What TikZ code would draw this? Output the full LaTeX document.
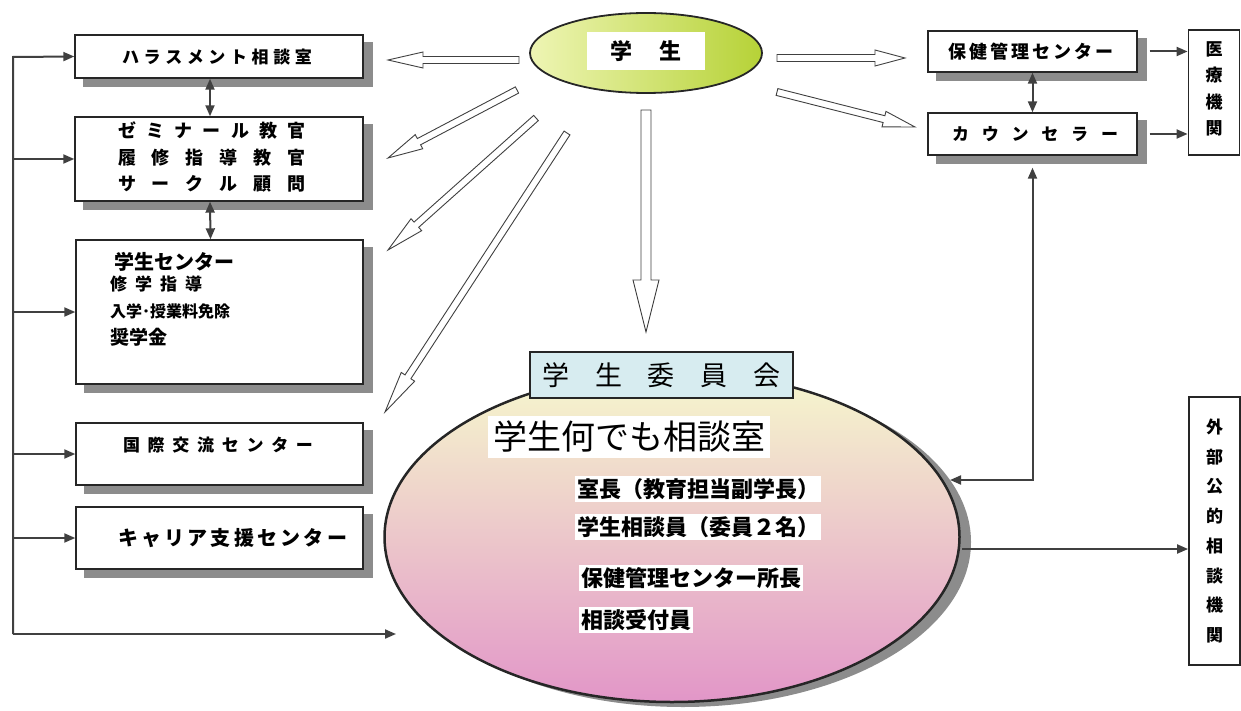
\documentclass[tikz,border=0pt]{standalone}
\usepackage{fontspec}
\setmainfont{Noto Sans CJK JP}
\usetikzlibrary{calc,shapes.geometric,arrows.meta}
\pgfdeclarelayer{bg}
\pgfsetlayers{bg,main}
\newcommand\harrow[5]{%
  \coordinate (ha) at (#1); \coordinate (hb) at (#2);
  \coordinate (hh) at ($(hb)!#5!(ha)$);
  \draw[hollow] ($(ha)!#3!90:(hb)$) -- ($(hh)!#3!90:(hb)$) -- ($(hh)!#4!90:(hb)$) -- (hb)
     -- ($(hh)!#4!-90:(hb)$) -- ($(hh)!#3!-90:(hb)$) -- ($(ha)!#3!-90:(hb)$) -- cycle;}
\newcommand\boxshadow[1]{\fill[shadowc] ($(#1.north west)+(9,8)$) rectangle ($(#1.south east)+(9,8)$);}
\begin{document}
\begin{tikzpicture}[x=1pt,y=-1pt,
  shadowc/.style={fill=black!45},
  box/.style={draw=black!85, line width=1.4pt, fill=white, rectangle, inner sep=0pt},
  plainbox/.style={draw=black!85, line width=1.8pt, fill=white, rectangle, inner sep=0pt},
  conn/.style={draw=black!75, line width=2pt, -{Triangle[length=11pt,width=9pt]}},
  conn2/.style={draw=black!75, line width=2pt, {Triangle[length=11pt,width=9pt]}-{Triangle[length=11pt,width=9pt]}},
  hollow/.style={draw=black!75, fill=white, line width=0.9pt, line join=miter},
  lbl/.style={inner sep=0pt, font=\bfseries\fontsize{17}{20}\selectfont},
  sub/.style={inner sep=2pt, fill=white, anchor=west, font=\bfseries\fontsize{22}{24}\selectfont},
]
\useasboundingbox (0,0) rectangle (1241,711);

% left boxes
\node[box, minimum width=288pt, minimum height=43pt] (harass) at (219,56.5) {};
\node[lbl] (tharass) at (217,57) {\hbox to 190pt{ハ\hfill ラ\hfill ス\hfill メ\hfill ン\hfill ト\hfill 相\hfill 談\hfill 室}};
\node[box, minimum width=288pt, minimum height=84pt] (semi) at (219,159) {};
\node[lbl, font=\bfseries\fontsize{18}{20}\selectfont] (ts1) at (212,131) {\hbox to 188pt{ゼ\hfill ミ\hfill ナ\hfill ー\hfill ル\hfill 教\hfill 官}};
\node[lbl, font=\bfseries\fontsize{18}{20}\selectfont] (ts2) at (212,158) {\hbox to 188pt{履\hfill 修\hfill 指\hfill 導\hfill 教\hfill 官}};
\node[lbl, font=\bfseries\fontsize{18}{20}\selectfont] (ts3) at (212,184) {\hbox to 188pt{サ\hfill ー\hfill ク\hfill ル\hfill 顧\hfill 問}};
\node[box, minimum width=287pt, minimum height=144pt] (gcenter) at (219.5,312) {};
\node[lbl, anchor=west, font=\bfseries\fontsize{20}{22}\selectfont] (tg1) at (114,262) {学生センター};
\node[lbl, anchor=west] (tg2) at (110,284) {\hbox to 92pt{修\hfill 学\hfill 指\hfill 導}};
\node[lbl, anchor=west, font=\bfseries\fontsize{16}{18}\selectfont] (tg3) at (110,311) {入学･授業料免除};
\node[lbl, anchor=west, font=\bfseries\fontsize{19}{21}\selectfont] (tg4) at (110,337) {奨学金};
\node[box, minimum width=287pt, minimum height=62pt] (kokusai) at (219.5,454) {};
\node[lbl] (tk) at (218,445) {\hbox to 190pt{国\hfill 際\hfill 交\hfill 流\hfill セ\hfill ン\hfill タ\hfill ー}};
\node[box, minimum width=287pt, minimum height=62pt] (career) at (219.5,538) {};
\node[lbl, font=\bfseries\fontsize{20}{22}\selectfont] (tc) at (232.5,538) {\hbox to 229pt{キ\hfill ャ\hfill リ\hfill ア\hfill 支\hfill 援\hfill セ\hfill ン\hfill タ\hfill ー}};

% right boxes
\node[box, minimum width=209pt, minimum height=41pt] (hoken) at (1032.5,51.5) {};
\node[lbl, font=\bfseries\fontsize{18}{20}\selectfont] (th) at (1030.5,52) {\hbox to 165pt{保\hfill 健\hfill 管\hfill 理\hfill セ\hfill ン\hfill タ\hfill ー}};
\node[box, minimum width=209pt, minimum height=42pt] (counsel) at (1032.5,134) {};
\node[lbl] (tcn) at (1035,134) {\hbox to 166pt{カ\hfill ウ\hfill ン\hfill セ\hfill ラ\hfill ー}};
\node[plainbox, minimum width=51pt, minimum height=125pt] (iryo) at (1214,92.5) {};
\node[lbl, align=center, font=\bfseries\fontsize{17}{26.5}\selectfont] (ti) at (1214,89) {医\\療\\機\\関};
\node[plainbox, minimum width=51pt, minimum height=268pt] (gaibu) at (1214.5,531) {};
\node[lbl, align=center, font=\bfseries\fontsize{17}{29.7}\selectfont] (tgb) at (1214.5,531) {外\\部\\公\\的\\相\\談\\機\\関};

% student ellipse
\node[ellipse, draw=black!85, line width=1.8pt, minimum width=232pt, minimum height=80pt,
  left color={rgb,255:red,238;green,245;blue,180}, right color={rgb,255:red,182;green,210;blue,55}] (gakusei) at (646,53) {};
\node[fill=white, minimum width=118pt, minimum height=38pt, inner sep=0pt,
  font=\bfseries\fontsize{22}{24}\selectfont] (tgk) at (646,51) {\hbox to 72pt{学\hfill 生}};

% big ellipse
\node[ellipse, draw=black!85, line width=2.5pt, minimum width=575pt, minimum height=330pt,
  top color={rgb,255:red,246;green,248;blue,205}, middle color={rgb,255:red,253;green,248;blue,242},
  bottom color={rgb,255:red,226;green,150;blue,200}] (soudan) at (672,537) {};
\node[draw=black!85, line width=1.3pt, fill={rgb,255:red,215;green,236;blue,240}, minimum width=263pt, minimum height=46pt, inner sep=0pt,
  font=\fontsize{27}{30}\selectfont] (iinkai) at (661.5,375) {\hbox to 238pt{学\hfill 生\hfill 委\hfill 員\hfill 会}};
\node[fill=white, inner sep=5pt, anchor=west, font=\fontsize{34}{36}\selectfont] (title) at (488,437) {学生何でも相談室};
\node[sub] (l1) at (575,489) {室長（教育担当副学長）};
\node[sub] (l2) at (575,527) {学生相談員（委員２名）};
\node[sub] (l3) at (579,578) {保健管理センター所長};
\node[sub] (l4) at (579,620) {相談受付員};

% shadows
\begin{pgfonlayer}{bg}
\boxshadow{harass}\boxshadow{semi}\boxshadow{gcenter}\boxshadow{kokusai}\boxshadow{career}
\boxshadow{hoken}\boxshadow{counsel}
\fill[black!45] ($(soudan.center)+(11,5)$) ellipse [x radius=288pt, y radius=165pt];
\end{pgfonlayer}

% hollow arrows from student
\coordinate (s1) at (519,60);  \coordinate (e1) at (388,60);
\coordinate (s2) at (517,90);  \coordinate (e2) at (388,158);
\coordinate (s3) at (536,118); \coordinate (e3) at (388,250);
\coordinate (s4) at (567,133); \coordinate (e4) at (385,412);
\coordinate (s5) at (646,110); \coordinate (e5) at (646,332);
\coordinate (s6) at (777,58);  \coordinate (e6) at (905,58);
\coordinate (s7) at (777,92);  \coordinate (e7) at (915,127);
\harrow{s1}{e1}{3.5pt}{8pt}{35pt}
\harrow{s2}{e2}{3.5pt}{8pt}{35pt}
\harrow{s3}{e3}{3.5pt}{8pt}{38pt}
\harrow{s4}{e4}{3.5pt}{8pt}{42pt}
\harrow{s5}{e5}{5pt}{13pt}{52pt}
\harrow{s6}{e6}{3.5pt}{8pt}{30pt}
\harrow{s7}{e7}{3.5pt}{8pt}{32pt}

% left bus
\coordinate (bt) at (13,57);
\coordinate (bb) at (13,634);
\coordinate (be) at (396,634);
\draw[conn] (bb) -- (bt) -- (harass.west);
\draw[conn] (bb) -- (be);
\draw[conn] (bt |- semi.west) -- (semi.west);
\draw[conn] (bt |- gcenter.west) -- (gcenter.west);
\draw[conn] (bt |- kokusai.west) -- (kokusai.west);
\draw[conn] (bt |- career.west) -- (career.west);
\draw[conn2] ([xshift=-9pt]harass.south) -- ([xshift=-9pt]semi.north);
\draw[conn2] ([xshift=-9pt]semi.south) -- ([xshift=-9pt]gcenter.north);

% right connectors
\draw[conn2] (hoken.south) -- (counsel.north);
\draw[conn] ([xshift=12pt]hoken.east) -- (hoken.east -| iryo.west);
\draw[conn] ([xshift=12pt]counsel.east) -- (counsel.east -| iryo.west);
\coordinate (cend) at (950,480);
\draw[conn2] ([yshift=-12pt]counsel.south) -- (counsel.south |- cend) -- (cend);
\coordinate (g0) at (962,549);
\draw[conn] (g0) -- (g0 -| gaibu.west);
\end{tikzpicture}
\end{document}
